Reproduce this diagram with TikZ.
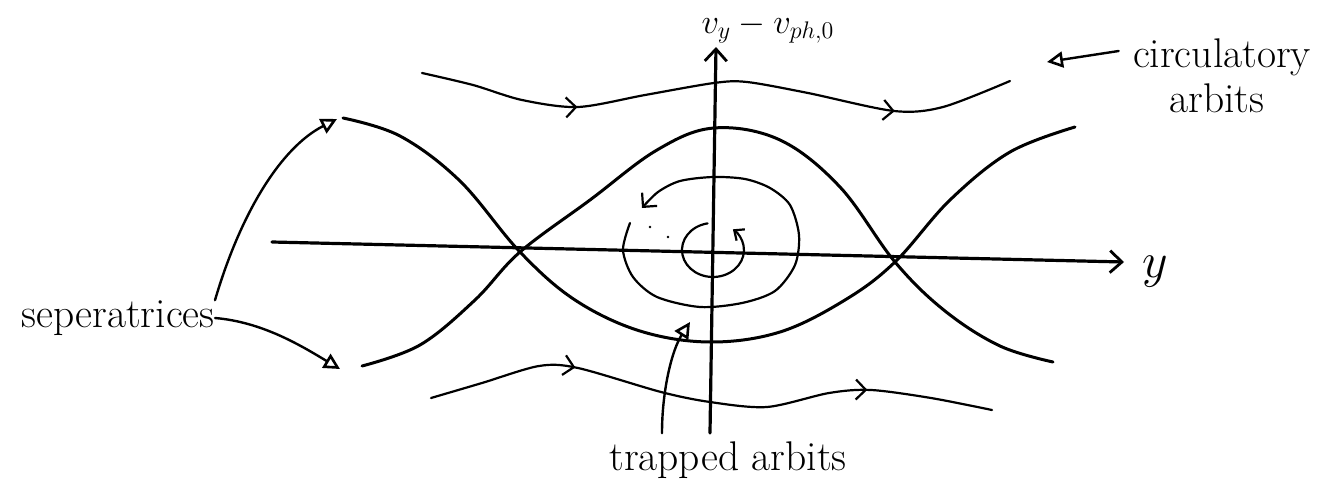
\documentclass[tikz,border=0pt]{standalone}
\usetikzlibrary{arrows.meta,decorations.markings}
\begin{document}
\begin{tikzpicture}[x=0.5pt,y=-0.5pt,
  sepcurve/.style={line width=1.5pt, line cap=round, line join=round},
  orbitline/.style={line width=1.1pt, line cap=round, line join=round},
  axisline/.style={line width=1.6pt, line cap=round},
  axistip/.style={-{Straight Barb[length=6pt,width=11pt,line width=1.4pt]}},
  twoarrows/.style 2 args={postaction={decorate,decoration={markings,
     mark=at position #1 with {\arrow{Straight Barb[length=5pt,width=10pt,line width=1.1pt]}},
     mark=at position #2 with {\arrow{Straight Barb[length=5pt,width=10pt,line width=1.1pt]}}}}},
  annot/.style={line width=1.2pt, line cap=round, -{Triangle[open,length=8pt,width=8pt,line width=1.3pt]}},
  hand/.style={font=\fontsize{20.74}{21}\selectfont, inner sep=0pt},
]
\useasboundingbox (0,0) rectangle (1341,487);

% axes
\coordinate (vbot) at (710,433);
\coordinate (vtop) at (716,47);
\draw[axisline,axistip] (vbot) -- (vtop);
\coordinate (hleft) at (272,242);
\coordinate (hright) at (1124,262);
\draw[axisline,axistip] (hleft) -- (hright);

\node[hand, font=\fontsize{17.28}{18}\selectfont] (vlab) at (768,28) {$v_y - v_{ph,0}$};
\node[hand, font=\fontsize{24.88}{26}\selectfont] (ylab) at (1155,272) {$y$};

% separatrices
\draw[sepcurve] plot[smooth, tension=0.6] coordinates {
 (343,118) (400,136) (460,181) (520,252) (575,300) (640,331) (710,342)
 (780,332) (845,300) (895,262) (950,200) (1010,152) (1075,127)};
\draw[sepcurve] plot[smooth, tension=0.6] coordinates {
 (362,366) (420,345) (475,300) (520,252) (590,200) (657,150) (714,128)
 (780,140) (840,187) (895,262) (945,311) (1000,346) (1053,362)};

% circulatory orbits
\draw[orbitline, twoarrows={0.265}{0.80}] plot[smooth] coordinates {
 (422,73) (473,85) (522,100) (578,107) (645,95) (714,83) (747,82)
 (808,93) (894,111) (943,107) (1010,81)};
\draw[orbitline, twoarrows={0.26}{0.78}] plot[smooth] coordinates {
 (431,398) (482,383) (539,366) (578,368) (661,392) (710,402) (767,407)
 (829,393) (871,390) (931,398) (992,410)};

% trapped orbits
\draw[orbitline, -{Straight Barb[length=5pt,width=10pt,line width=1.1pt]}]
 plot[smooth] coordinates {
 (630,223) (623,250) (633,277) (657,297) (700,307) (742,303) (775,291)
 (795,265) (799,235) (790,205) (770,188) (745,179) (713,177) (680,181)
 (658,192) (642,208)};
\draw[orbitline, -{Straight Barb[length=4pt,width=7pt,line width=1.1pt]}]
 (707.6,223.4) arc[start angle=-100, end angle=-410, x radius=31, y radius=27];
\fill (650,227) circle[radius=1.4];
\fill (668,237) circle[radius=1.4];

% labels
\node[hand, anchor=east] (sep) at (215,318) {seperatrices};
\coordinate (sepAtip) at (337,119);
\coordinate (sepBtip) at (340,369);
\draw[annot] (sep.north east) .. controls (240,215) and (280,148) .. (sepAtip);
\draw[annot] (sep.east) .. controls (262,322) and (300,345) .. (sepBtip);

\node[hand] (circ1) at (1222,57) {circulatory};
\node[hand] (circ2) at (1217,98) {arbits};
\coordinate (circtip) at (1047,62);
\draw[annot] ([xshift=-7pt,yshift=3pt]circ1.west) -- (circtip);

\node[hand, font=\fontsize{20.74}{24}\selectfont] (trap) at (728,460) {trapped arbits};
\coordinate (traptip) at (690,322);
\draw[annot] ([xshift=-33pt,yshift=4pt]trap.north) .. controls (662,390) and (672,350) .. (traptip);
\end{tikzpicture}
\end{document}
